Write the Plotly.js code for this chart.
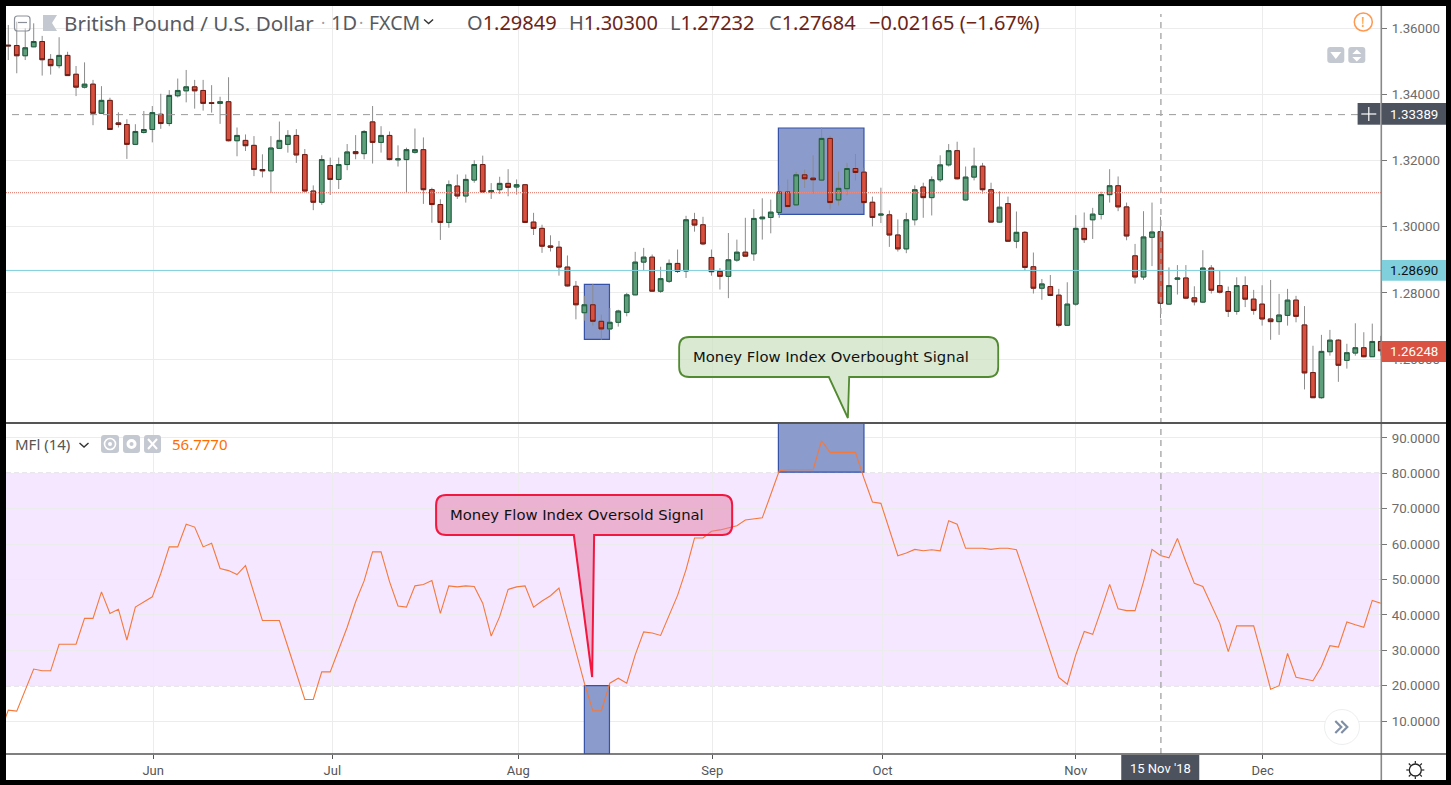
<!DOCTYPE html>
<html>
<head>
<meta charset="utf-8">
<script src="https://cdn.plot.ly/plotly-3.0.1.min.js"></script>
<style>
html,body{margin:0;padding:0;background:#000;width:1451px;height:785px;overflow:hidden}
#chart{position:absolute;left:6px;top:6px;width:1440px;height:774px;background:#fff}
</style>
</head>
<body>
<div id="chart"></div>
<script>
const opens=[
1.3549,1.3548,1.3517,1.3544,1.3560,1.3506,1.3487,1.3518,1.3461,1.3422,
1.3431,1.3343,1.3382,1.3314,1.3309,1.3249,1.3285,1.3294,1.3340,1.3312,
1.3396,1.3411,1.3423,1.3412,1.3375,1.3373,1.3378,1.3260,1.3261,1.3246,
1.3173,1.3169,1.3237,1.3249,1.3276,1.3218,1.3108,1.3074,1.3185,1.3143,
1.3188,1.3227,1.3221,1.3317,1.3255,1.3276,1.3202,1.3203,1.3225,1.3233,
1.3112,1.3067,1.3013,1.3123,1.3093,1.3141,1.3188,1.3105,1.3112,1.3131,
1.3120,1.3127,1.3014,1.2995,1.2942,1.2938,1.2878,1.2820,1.2740,1.2764,
1.2714,1.2691,1.2711,1.2741,1.2794,1.2893,1.2908,1.2805,1.2835,1.2889,
1.2866,1.3021,1.3006,1.2907,1.2865,1.2850,1.2899,1.2923,1.2918,1.3024,
1.3028,1.3043,1.3105,1.3066,1.3157,1.3147,1.3141,1.3267,1.3081,1.3115,
1.3176,1.3165,1.3074,1.3035,1.3036,1.2975,1.2933,1.3021,1.3120,1.3088,
1.3142,1.3187,1.3230,1.3081,1.3150,1.3183,1.3112,1.3014,1.3070,1.2956,
1.2983,1.2879,1.2814,1.2819,1.2793,1.2702,1.2766,1.2995,1.3021,1.3037,
1.3097,1.3124,1.3060,1.2912,1.2848,1.2968,1.29849,1.2766,1.2841,1.2845,
1.2785,1.2772,1.2875,1.2822,1.2804,1.2744,1.2822,1.2781,1.2766,1.2721,
1.2713,1.2732,1.2778,1.2703,1.2559,1.2483,1.2622,1.2657,1.2596,1.2618,
1.2634,1.2607,1.2653];
const highs=[
1.3610,1.3620,1.3600,1.3615,1.3577,1.3522,1.3573,1.3529,1.3486,1.3497,
1.3444,1.3425,1.3390,1.3346,1.3325,1.3310,1.3350,1.3365,1.3402,1.3413,
1.3448,1.3474,1.3444,1.3444,1.3428,1.3393,1.3452,1.3300,1.3279,1.3274,
1.3219,1.3274,1.3318,1.3292,1.3295,1.3235,1.3125,1.3216,1.3209,1.3209,
1.3250,1.3277,1.3292,1.3365,1.3304,1.3288,1.3246,1.3239,1.3297,1.3270,
1.3118,1.3083,1.3140,1.3158,1.3158,1.3201,1.3215,1.3132,1.3151,1.3174,
1.3143,1.3129,1.3042,1.3006,1.2974,1.2957,1.2913,1.2836,1.2791,1.2827,
1.2734,1.2754,1.2749,1.2800,1.2924,1.2936,1.2916,1.2879,1.2901,1.2931,
1.3033,1.3042,1.3030,1.2931,1.2875,1.2981,1.2961,1.3027,1.3053,1.3086,
1.3082,1.3125,1.3143,1.3166,1.3173,1.3216,1.3300,1.3275,1.3167,1.3193,
1.3220,1.3178,1.3091,1.3118,1.3049,1.3022,1.3042,1.3125,1.3133,1.3152,
1.3216,1.3250,1.3257,1.3182,1.3239,1.3193,1.3133,1.3107,1.3091,1.3046,
1.2987,1.2922,1.2842,1.2854,1.2812,1.2832,1.3035,1.3043,1.3057,1.3106,
1.3174,1.3152,1.3073,1.2948,1.3047,1.3073,1.3030,1.2877,1.2884,1.2884,
1.2820,1.2929,1.2884,1.2866,1.2819,1.2847,1.2850,1.2809,1.2823,1.2839,
1.2797,1.2812,1.2791,1.2760,1.2640,1.2673,1.2688,1.2660,1.2646,1.2708,
1.2681,1.2707,1.2670];
const lows=[
1.3504,1.3464,1.3504,1.3543,1.3457,1.3460,1.3479,1.3456,1.3395,1.3418,
1.3307,1.3341,1.3294,1.3300,1.3205,1.3247,1.3282,1.3255,1.3296,1.3304,
1.3391,1.3376,1.3357,1.3351,1.3345,1.3311,1.3258,1.3213,1.3229,1.3153,
1.3149,1.3102,1.3236,1.3224,1.3193,1.3107,1.3050,1.3066,1.3096,1.3114,
1.3171,1.3204,1.3204,1.3191,1.3224,1.3201,1.3182,1.3103,1.3221,1.3069,
1.3012,1.2960,1.2997,1.3084,1.3073,1.3133,1.3104,1.3084,1.3099,1.3092,
1.3097,1.3011,1.2975,1.2921,1.2925,1.2852,1.2819,1.2720,1.2716,1.2701,
1.2658,1.2689,1.2698,1.2729,1.2793,1.2868,1.2804,1.2800,1.2830,1.2860,
1.2845,1.2985,1.2944,1.2852,1.2810,1.2784,1.2894,1.2910,1.2897,1.2961,
1.2980,1.3027,1.3059,1.3064,1.3117,1.3100,1.3138,1.3052,1.3064,1.3095,
1.3140,1.3071,1.3001,1.3011,1.2939,1.2925,1.2920,1.3004,1.3027,1.3034,
1.3135,1.3182,1.3143,1.3079,1.3140,1.3100,1.3012,1.3012,1.2954,1.2935,
1.2867,1.2798,1.2779,1.2790,1.2696,1.2700,1.2761,1.2951,1.2963,1.3022,
1.3073,1.3047,1.2959,1.2828,1.2839,1.2881,1.27232,1.2764,1.2795,1.2781,
1.2762,1.2769,1.2798,1.2798,1.2727,1.2734,1.2757,1.2734,1.2701,1.2658,
1.2673,1.2701,1.2711,1.2508,1.2482,1.2480,1.2610,1.2531,1.2571,1.2610,
1.2605,1.2606,1.2610];
const closes=[
1.3547,1.3517,1.3541,1.3560,1.3505,1.3487,1.3518,1.3457,1.3422,1.3431,
1.3343,1.3382,1.3294,1.3309,1.3249,1.3288,1.3294,1.3345,1.3312,1.3397,
1.3412,1.3423,1.3411,1.3373,1.3373,1.3378,1.3260,1.3276,1.3245,1.3173,
1.3169,1.3238,1.3261,1.3276,1.3217,1.3108,1.3074,1.3203,1.3143,1.3188,
1.3226,1.3221,1.3288,1.3255,1.3276,1.3203,1.3205,1.3233,1.3233,1.3112,
1.3067,1.3013,1.3127,1.3093,1.3143,1.3188,1.3105,1.3109,1.3131,1.3119,
1.3127,1.3013,1.2995,1.2941,1.2938,1.2878,1.2821,1.2764,1.2764,1.2714,
1.2691,1.2711,1.2745,1.2794,1.2893,1.2908,1.2805,1.2843,1.2889,1.2865,
1.3021,1.3005,1.2948,1.2864,1.2850,1.2900,1.2923,1.2911,1.3025,1.3029,
1.3044,1.3105,1.3061,1.3157,1.3145,1.3142,1.3267,1.3073,1.3116,1.3176,
1.3164,1.3073,1.3028,1.3038,1.2975,1.2933,1.3021,1.3112,1.3088,1.3142,
1.3187,1.3230,1.3145,1.3150,1.3183,1.3112,1.3014,1.3059,1.2956,1.2983,
1.2877,1.2814,1.2827,1.2792,1.2702,1.2766,1.2995,1.2961,1.3038,1.3097,
1.3124,1.3060,1.2972,1.2848,1.2969,1.2984,1.27684,1.2822,1.2845,1.2784,
1.2773,1.2875,1.2808,1.2802,1.2744,1.2822,1.2781,1.2747,1.2721,1.2713,
1.2733,1.2778,1.2729,1.2558,1.2483,1.2623,1.2657,1.2581,1.2619,1.2634,
1.2607,1.2653,1.26248];
const mfiBefore=[6.5];
const mfiValues=[
13.1,12.8,19.0,24.7,24.2,24.2,31.7,31.7,31.7,39.0,
39.0,46.5,40.4,41.6,32.9,42.2,43.7,45.1,51.7,59.2,
59.2,65.6,64.8,59.2,60.2,53.1,52.5,51.4,53.9,46.1,
38.4,38.4,38.4,31.0,23.5,16.1,16.1,23.9,23.9,30.1,
36.5,43.7,49.6,57.8,57.8,49.4,42.5,42.2,48.2,48.6,
49.7,40.4,48.2,47.9,48.2,48.0,43.3,34.0,39.5,47.2,
47.9,48.2,42.2,43.9,45.4,47.6,38.5,29.1,20.7,12.9,
12.9,20.7,22.1,20.7,28.7,35.2,34.9,34.2,39.6,45.5,
52.8,61.7,61.7,63.6,64.0,64.5,65.2,66.8,67.2,67.4,
74.0,80.7,81.0,81.0,81.0,81.0,89.2,85.9,85.9,85.9,
85.9,78.6,71.9,71.5,63.9,56.7,57.5,58.5,58.1,58.4,
58.1,66.6,65.6,58.8,58.8,58.8,58.5,58.8,58.8,58.4,
51.3,44.2,36.8,29.7,22.3,20.4,28.7,35.3,34.5,41.4,
48.6,41.7,41.2,41.2,49.4,58.5,56.78,56.1,61.6,55.0,
48.9,48.0,42.8,37.6,29.6,36.9,36.9,36.9,28.2,19.0,
20.0,29.1,22.4,21.8,21.4,25.4,31.3,30.9,38.0,37.2,
36.5,44.1,43.3];
const monthLabels=['Jun','Jul','Aug','Sep','Oct','Nov','Dec'];
const monthPositions=[17.1,38.25,60.2,83.1,103.2,126,148.05];
const priceTicks=[1.26,1.28,1.30,1.32,1.34,1.36];
const mfiTicks=[10,20,30,40,50,60,70,80,90];
const priceLines={crosshair:1.33389,red:1.3103,cyan:1.28678};
const crossBar=136.05;

const barIndex=opens.map((_,i)=>i);
const bodyHigh=opens.map((o,i)=>Math.max(o,closes[i]));
const bodyLow=opens.map((o,i)=>Math.min(o,closes[i]));

// page pixels -> paper fractions (plot area: x 6..1380.7, y 6..754)
const PL=6,PW=1374.7,PT=6,PH=748;
const px=x=>(x-PL)/PW, py=y=>1-(y-PT)/PH;
const P=(x,y)=>px(x)+','+py(y);
const split=(754-423)/748;

const FONT='"Noto Sans", sans-serif';
const TICKF='Roboto, sans-serif';
const GREY='#c4c8d0', DARK='#4c525e';

function pathShape(d,fill,line,w,layer){return {type:'path',xref:'paper',yref:'paper',path:d,fillcolor:fill||'rgba(0,0,0,0)',
  line:{color:line||'rgba(0,0,0,0)',width:w===undefined?1:w},layer:layer||'above'};}
function rectPx(x0,y0,x1,y1,fill,line,w){return pathShape(`M${P(x0,y0)} L${P(x1,y0)} L${P(x1,y1)} L${P(x0,y1)} Z`,fill,line,w===undefined?0:w);}
function rrect(x0,y0,x1,y1,r){return `M${P(x0+r,y0)} L${P(x1-r,y0)} Q${P(x1,y0)} ${P(x1,y0+r)} L${P(x1,y1-r)} Q${P(x1,y1)} ${P(x1-r,y1)} L${P(x0+r,y1)} Q${P(x0,y1)} ${P(x0,y1-r)} L${P(x0,y0+r)} Q${P(x0,y0)} ${P(x0+r,y0)} Z`;}
function lineBox(x0,y0,x1,y1,color,w,dash){return {type:'line',xref:'paper',yref:'paper',x0:px(x0),x1:px(x1),y0:py(y0),y1:py(y1),line:{color,width:w,dash:dash||'solid'},layer:'above'};}
function circlePx(cx,cy,r,fill,line,w){return {type:'circle',xref:'paper',yref:'paper',x0:px(cx-r),x1:px(cx+r),y0:py(cy+r),y1:py(cy-r),fillcolor:fill,line:{color:line||'rgba(0,0,0,0)',width:w||0},layer:'above'};}
function txt(x,y,text,size,color,anchor,family){return {xref:'paper',yref:'paper',x:px(x),y:py(y),text,showarrow:false,xanchor:anchor||'left',yanchor:'middle',
  font:{family:family||FONT,size,color},borderpad:0};}
const BLUE='#8b9bcc', BLUEB='#3552a8';

const shapes=[
 // indicator band
 {type:'rect',xref:'paper',yref:'y2',x0:0,x1:0.9985,y0:20,y1:80,fillcolor:'rgba(153,21,255,0.10)',line:{width:0},layer:'below'},
 {type:'line',xref:'paper',yref:'y2',x0:0,x1:1,y0:20,y1:20,line:{color:'#a99cb5',width:1.2,dash:'5px,3px'},layer:'between'},
 {type:'line',xref:'paper',yref:'y2',x0:0,x1:1,y0:80,y1:80,line:{color:'#a99cb5',width:1.2,dash:'5px,3px'},layer:'between'},
 // highlight boxes
 {type:'rect',xref:'x',yref:'y',x0:68.0,x1:70.96,y0:1.26596,y1:1.28259,fillcolor:BLUE,line:{color:BLUEB,width:1.2},layer:'between'},
 {type:'rect',xref:'x',yref:'y',x0:90.9,x1:101.0,y0:1.30376,y1:1.32985,fillcolor:BLUE,line:{color:BLUEB,width:1.2},layer:'between'},
 {type:'rect',xref:'x2',yref:'y2',x0:68.0,x1:70.96,y0:0.7,y1:20,fillcolor:BLUE,line:{color:BLUEB,width:1.2},layer:'between'},
 {type:'rect',xref:'x2',yref:'y2',x0:90.9,x1:101.0,y0:80.3,y1:94.2,fillcolor:BLUE,line:{color:BLUEB,width:1.2},layer:'between'},
 // horizontal level lines
 {type:'line',xref:'paper',yref:'y',x0:px(12),x1:px(1358),y0:priceLines.crosshair,y1:priceLines.crosshair,line:{color:'#9a9a9a',width:1,dash:'7px,6px'}},
 {type:'line',xref:'paper',yref:'y',x0:0,x1:1,y0:priceLines.red,y1:priceLines.red,line:{color:'#e98a80',width:1.4,dash:'1px,1px'}},
 {type:'line',xref:'paper',yref:'y',x0:0,x1:1,y0:priceLines.cyan,y1:priceLines.cyan,line:{color:'#7fd0dc',width:1}},
 // crosshair
 {type:'line',xref:'x2',yref:'paper',x0:crossBar,x1:crossBar,y0:py(754),y1:py(14),line:{color:'#a8a8a8',width:1.4,dash:'6px,5px'}},
 // frame lines
 lineBox(1381,6,1381,780,'#888',1.6),
 lineBox(6,423,1446,423,'#555',2),
 lineBox(6,754,1446,754,'#555',1.4),
 // tags
 rectPx(1381.5,260,1446,280.7,'#7fcfdd'),
 rectPx(1381.5,341,1446,362,'#d95242'),
 rectPx(1381.5,103,1446,124.7,DARK),
 rectPx(1357.3,103,1380,124.7,DARK),
 lineBox(1361,114,1376,114,'#fff',1.2),
 lineBox(1368.5,107,1368.5,121,'#fff',1.2),
 rectPx(1121,755,1199,780,DARK),
 // oversold callout
 pathShape(`M${P(446,495)} L${P(722,495)} Q${P(732,495)} ${P(732,505)} L${P(732,525)} Q${P(732,535)} ${P(722,535)} L${P(594,535)} L${P(592,677)} L${P(573.7,535)} L${P(446,535)} Q${P(436,535)} ${P(436,525)} L${P(436,505)} Q${P(436,495)} ${P(446,495)} Z`,'rgba(225,125,165,0.5)','#f2173f',2),
 // overbought callout
 pathShape(`M${P(689,337)} L${P(988,337)} Q${P(998,337)} ${P(998,347)} L${P(998,367)} Q${P(998,377)} ${P(988,377)} L${P(849,377)} L${P(847.7,418)} L${P(828.7,377)} L${P(689,377)} Q${P(679,377)} ${P(679,367)} L${P(679,347)} Q${P(679,337)} ${P(689,337)} Z`,'rgba(205,226,195,0.75)','#518a30',1.8),
 // header icons
 pathShape(rrect(14.5,16,30,31,3),'rgba(255,255,255,0.4)','#8a8f98',1.2),
 lineBox(18,22.5,27,22.5,'#8a8f98',1.2),
 pathShape(`M${P(43,15)} L${P(57,15)} L${P(52,23)} L${P(57,31)} L${P(43,31)} Z`,GREY,null,0),
 pathShape(`M${P(424,19.5)} L${P(428.5,23.5)} L${P(433,19.5)}`,null,'#333',1.4),
 circlePx(1363,22,9,'#fff','#ff9850',1.5),
 pathShape(rrect(1327,47,1344,63,3),GREY,null,0),
 pathShape(`M${P(1330,52)} L${P(1341,52)} L${P(1335.5,59)} Z`,'#fff',null,0),
 pathShape(rrect(1348,47,1365,63,3),GREY,null,0),
 pathShape(`M${P(1352,54)} L${P(1361,54)} L${P(1356.5,49.5)} Z`,'#fff',null,0),
 pathShape(`M${P(1352,57)} L${P(1361,57)} L${P(1356.5,61.5)} Z`,'#fff',null,0),
 // indicator icons
 pathShape(`M${P(79.5,443)} L${P(84,447)} L${P(88.5,443)}`,null,'#333',1.4),
 pathShape(rrect(101,435,119,453,3),GREY,null,0),
 circlePx(110,444,5.5,'rgba(0,0,0,0)','#fff',1.6),
 circlePx(110,444,2,'#fff'),
 pathShape(rrect(123,435,140,453,3),GREY,null,0),
 circlePx(131.5,444,5,'#fff'),
 circlePx(131.5,444,2,GREY),
 pathShape(rrect(144,435,161,453,3),GREY,null,0),
 lineBox(148,439,157,449,'#fff',2),
 lineBox(157,439,148,449,'#fff',2),
 // scroll button
 circlePx(1341.7,727,17.5,'#fff','#eceef0',1),
 pathShape(`M${P(1335,721)} L${P(1341,727)} L${P(1335,733)}`,null,'#7d8ea5',2.2),
 pathShape(`M${P(1341,721)} L${P(1347,727)} L${P(1341,733)}`,null,'#7d8ea5',2.2),
 // settings sun
 circlePx(1415,770,6,'#fff','#222',1.3),
 lineBox(1415,761,1415,763.5,'#222',1.2),lineBox(1415,776.5,1415,779,'#222',1.2),
 lineBox(1406,770,1408.5,770,'#222',1.2),lineBox(1421.5,770,1424,770,'#222',1.2),
 lineBox(1408.5,763.5,1410.3,765.3,'#222',1.2),lineBox(1419.7,765.3,1421.5,763.5,'#222',1.2),
 lineBox(1408.5,776.5,1410.3,774.7,'#222',1.2),lineBox(1419.7,774.7,1421.5,776.5,'#222',1.2)
];

const brown='#6b2417', gr='#55585f';
const CALL='"DejaVu Sans", sans-serif';
const annotations=[
 txt(63,23,'British Pound / U.S. Dollar',20.6,'#585a60'),
 txt(320,23,'·',16,'#9a9da3'),
 txt(330,23,'1D',20,'#585a60'),
 txt(358,23,'·',16,'#9a9da3'),
 txt(368,23,'FXCM',19.5,'#585a60'),
 txt(466,23,`<span style="color:${gr}">O</span>1.29849`,20,brown),
 txt(568,23,`<span style="color:${gr}">H</span>1.30300`,20,brown),
 txt(669,23,`<span style="color:${gr}">L</span>1.27232`,20,brown),
 txt(767.5,23,`<span style="color:${gr}">C</span>1.27684`,20,brown),
 txt(868,23,'−0.02165 (−1.67%)',20,brown),
 txt(1363,22,'!',14,'#ff9850','center'),
 txt(14,444.5,'MFl (14)',15,'#555'),
 txt(171,444.5,'56.7770',15,'#ff6d00'),
 txt(830.5,356.5,'Money Flow Index Overbought Signal',14.8,'#111','center',CALL),
 txt(576.5,514.5,'Money Flow Index Oversold Signal',14.8,'#111','center',CALL),
 txt(1414,270.5,'1.28690',13.3,'#111','center',TICKF),
 txt(1414,351.5,'1.26248',13.3,'#fff','center',TICKF),
 txt(1414,114,'1.33389',13.3,'#fff','center',TICKF),
 txt(1160,768,"15 Nov '18",13,'#fff','center',TICKF)
];

const common={hoverinfo:'skip',showlegend:false,whiskerwidth:0};
const data=[
 Object.assign({type:'candlestick',x:barIndex,open:opens,high:highs,low:lows,close:closes,xaxis:'x',yaxis:'y',
   increasing:{line:{color:'#8c8c8c',width:1},fillcolor:'rgba(0,0,0,0)'},
   decreasing:{line:{color:'#8c8c8c',width:1},fillcolor:'rgba(0,0,0,0)'}},common),
 Object.assign({type:'candlestick',x:barIndex,open:opens,high:bodyHigh,low:bodyLow,close:closes,xaxis:'x',yaxis:'y',
   increasing:{line:{color:'#1d5c3d',width:1},fillcolor:'#5f9f7c'},
   decreasing:{line:{color:'#6e1a12',width:1},fillcolor:'#d9503f'}},common),
 {type:'scatter',mode:'lines',x:[-1].concat(barIndex),y:mfiBefore.concat(mfiValues),xaxis:'x2',yaxis:'y2',line:{color:'#f4793b',width:1.1},hoverinfo:'skip',showlegend:false}
];

const xBase={type:'linear',range:[-0.27,162.03],tickmode:'array',tickvals:monthPositions,ticktext:monthLabels,
 showgrid:true,gridcolor:'#ececec',gridwidth:1,zeroline:false,showline:false,fixedrange:true,rangeslider:{visible:false}};
const layout={
 width:1440,height:774,autosize:false,
 margin:{l:0,r:65.3,t:0,b:26,pad:0},
 paper_bgcolor:'#fff',plot_bgcolor:'#fff',
 showlegend:false,boxgap:0.22,boxmode:'overlay',
 xaxis:Object.assign({},xBase,{anchor:'y',showticklabels:false,ticks:''}),
 xaxis2:Object.assign({},xBase,{anchor:'y2',showticklabels:true,ticks:'outside',ticklen:4,tickcolor:'#555',
   tickfont:{family:TICKF,size:13,color:'#555'}}),
 yaxis:{domain:[split,1],range:[1.24065,1.36674],side:'right',anchor:'x',tickmode:'array',tickvals:priceTicks,
   ticktext:priceTicks.map(v=>v.toFixed(5)),ticks:'outside',ticklen:5,tickcolor:'#777',showgrid:true,gridcolor:'#ececec',ticklabelstandoff:2,
   zeroline:false,showline:false,tickfont:{family:TICKF,size:13.3,color:'#6c6c6c'},fixedrange:true},
 yaxis2:{domain:[0,split],range:[0.7,94.2],side:'right',anchor:'x2',tickmode:'array',tickvals:mfiTicks,
   ticktext:mfiTicks.map(v=>v.toFixed(4)),ticks:'outside',ticklen:5,tickcolor:'#777',showgrid:true,gridcolor:'#ececec',ticklabelstandoff:2,
   zeroline:false,showline:false,tickfont:{family:TICKF,size:13.3,color:'#6c6c6c'},fixedrange:true},
 shapes,annotations
};
Plotly.newPlot('chart',data,layout,{displayModeBar:false,staticPlot:true});
</script>
</body>
</html>
